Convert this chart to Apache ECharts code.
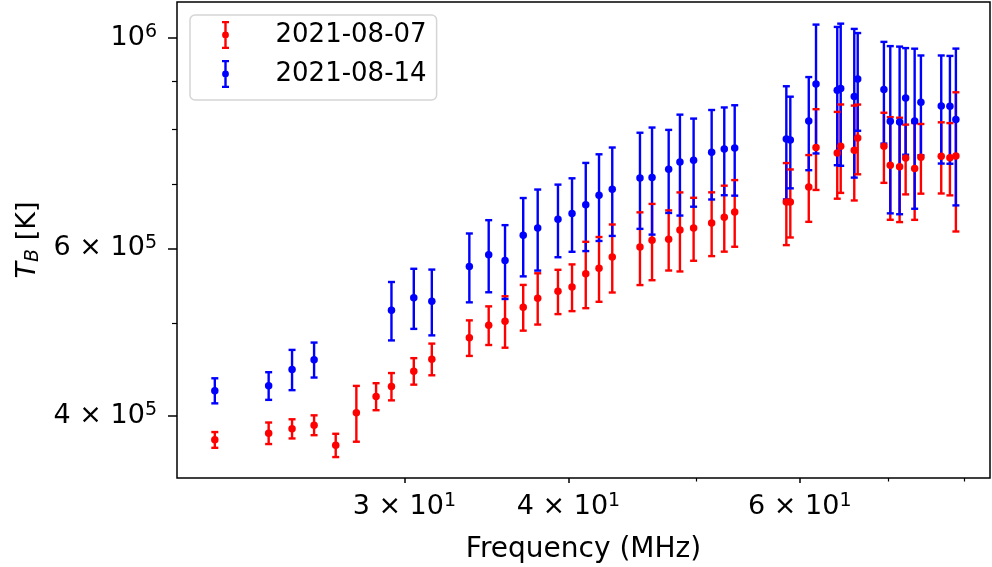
<!DOCTYPE html>
<html><head><meta charset="utf-8">
<script src="https://cdn.jsdelivr.net/npm/echarts@6/dist/echarts.min.js"></script>
<style>html,body{margin:0;padding:0;background:#fff}#chart{width:992px;height:567px}</style>
</head><body><div id="chart"></div>
<script>
// ---- data (frequency in MHz, brightness temperature in K, 1-sigma error in K) ----
const freq0807 = [21.52, 23.65, 24.64, 25.61, 26.60, 27.58, 28.55, 29.33, 30.50, 31.48,
  33.62, 34.78, 35.79, 36.95, 37.90, 39.27, 40.25, 41.23, 42.20, 43.19,
  45.34, 46.31, 47.68, 48.63, 49.81, 51.41, 52.56, 53.53,
  58.60, 59.01, 60.95, 61.73, 64.07, 64.46, 66.01, 66.41,
  69.53, 70.31, 71.47, 72.23, 73.38, 74.19, 76.88, 78.06, 78.88];
const tb0807 = [377.2e3, 383.4e3, 387.5e3, 390.9e3, 372.3e3, 402.7e3, 419.0e3, 429.3e3, 445.5e3, 458.7e3,
  483.1e3, 498.0e3, 502.9e3, 520.3e3, 531.8e3, 540.6e3, 546.2e3, 564.3e3, 571.9e3, 587.4e3,
  601.8e3, 611.8e3, 613.2e3, 627.2e3, 630.2e3, 638.0e3, 646.8e3, 655.1e3,
  671.2e3, 671.2e3, 696.0e3, 765.9e3, 755.9e3, 768.3e3, 760.9e3, 784.0e3,
  768.3e3, 733.8e3, 731.4e3, 746.8e3, 727.9e3, 748.0e3, 749.8e3, 747.5e3, 750.4e3];
const err0807 = [7.2e3, 10.0e3, 9.0e3, 9.4e3, 10.5e3, 27.2e3, 13.7e3, 14.2e3, 14.3e3, 17.6e3,
  20.8e3, 23.3e3, 31.3e3, 28.8e3, 33.0e3, 29.0e3, 30.9e3, 45.3e3, 44.8e3, 48.3e3,
  52.9e3, 56.4e3, 44.6e3, 59.9e3, 48.0e3, 49.2e3, 51.6e3, 52.8e3,
  66.5e3, 55.2e3, 56.2e3, 74.7e3, 79.2e3, 82.0e3, 87.1e3, 66.1e3,
  65.1e3, 90.8e3, 92.0e3, 63.0e3, 85.0e3, 63.0e3, 64.5e3, 65.3e3, 125.4e3];

const freq0814 = [21.52, 23.65, 24.64, 25.61, 29.33, 30.50, 31.48,
  33.62, 34.78, 35.79, 36.95, 37.90, 39.27, 40.25, 41.23, 42.20, 43.19,
  45.34, 46.31, 47.68, 48.63, 49.81, 51.41, 52.56, 53.53,
  58.60, 59.01, 60.95, 61.73, 64.07, 64.46, 66.01, 66.41,
  69.53, 70.31, 71.47, 72.23, 73.38, 74.19, 76.88, 78.06, 78.88];
const tb0814 = [425.0e3, 430.0e3, 447.3e3, 458.1e3, 516.5e3, 532.3e3, 527.9e3,
  574.2e3, 590.9e3, 582.7e3, 619.2e3, 630.2e3, 643.7e3, 653.0e3, 667.0e3, 682.2e3, 692.2e3,
  711.5e3, 712.2e3, 726.6e3, 739.6e3, 742.7e3, 757.2e3, 763.3e3, 765.2e3,
  782.1e3, 780.2e3, 816.9e3, 893.5e3, 880.0e3, 883.6e3, 866.7e3, 904.4e3,
  881.5e3, 816.3e3, 815.0e3, 863.8e3, 816.9e3, 854.7e3, 847.2e3, 846.5e3, 819.7e3];
const err0814 = [12.9e3, 14.4e3, 21.8e3, 19.4e3, 36.5e3, 38.7e3, 42.0e3,
  47.8e3, 51.5e3, 52.0e3, 58.6e3, 61.7e3, 56.5e3, 58.0e3, 71.0e3, 71.4e3, 73.9e3,
  82.5e3, 91.9e3, 72.9e3, 90.0e3, 79.0e3, 81.8e3, 80.9e3, 83.5e3,
  106.6e3, 86.3e3, 91.8e3, 138.4e3, 146.1e3, 150.7e3, 154.5e3, 106.6e3,
  108.1e3, 163.2e3, 163.3e3, 111.0e3, 156.5e3, 102.8e3, 110.3e3, 110.0e3, 153.9e3];

const seriesNames = ['2021-08-07', '2021-08-14'];
const seriesColors = ['#ff0000', '#0000ff'];

const xRange = [20.14, 83.74];
const yRange = [3.439e5, 1.090e6];
const xMajorTicks = [30, 40, 60];
const xMajorLabels = ['3×10^1', '4×10^1', '6×10^1'];
const xMinorTicks = [50, 70, 80];
const yMajorTicks = [4e5, 6e5, 1e6];
const yMajorLabels = ['4×10^5', '6×10^5', '10^6'];
const yMinorTicks = [5e5, 7e5, 8e5, 9e5];
const xAxisTitle = 'Frequency (MHz)';
const yAxisTitle = '{i|T}{sub|B}{m| [K]}';

// ---- helpers ----
const L = Math.log10;
const FONT = 'DejaVu Sans';

function toRich(label) {
  const parts = label.split('^');
  const base = parts[0].replace('×', ' × ');
  return '{m|' + base + '}{s|' + parts[1] + '}';
}
function labelFormatter(ticks, labels) {
  return function (v) {
    let best = 0, bd = Infinity;
    ticks.forEach((t, i) => { const d = Math.abs(L(t) - v); if (d < bd) { bd = d; best = i; } });
    return toRich(labels[best]);
  };
}
const tickRich = {
  m: { fontSize: 27, fontFamily: FONT, color: '#000', lineHeight: 30, verticalAlign: 'middle' },
  s: { fontSize: 19, fontFamily: FONT, color: '#000', lineHeight: 16, verticalAlign: 'top' }
};

const BAR_W = 2.4;
function stemRenderer(color) {
  return function (params, api) {
    const x = api.value(0);
    const a = api.coord([x, api.value(1)]);
    const b = api.coord([x, api.value(2)]);
    return { type: 'line', shape: { x1: a[0], y1: a[1], x2: b[0], y2: b[1] },
      style: { stroke: color, lineWidth: BAR_W } };
  };
}
function capRenderer(color) {
  return function (params, api) {
    const x = api.value(0);
    const a = api.coord([x, api.value(1)]);
    const b = api.coord([x, api.value(2)]);
    const w = 3.5;
    return { type: 'group', children: [
      { type: 'line', shape: { x1: a[0] - w, y1: a[1], x2: a[0] + w, y2: a[1] }, style: { stroke: color, lineWidth: BAR_W } },
      { type: 'line', shape: { x1: b[0] - w, y1: b[1], x2: b[0] + w, y2: b[1] }, style: { stroke: color, lineWidth: BAR_W } }
    ] };
  };
}

const groups = [
  { freq: freq0807, tb: tb0807, err: err0807 },
  { freq: freq0814, tb: tb0814, err: err0814 }
];

const series = [];
groups.forEach((g, k) => {
  const name = seriesNames[k], color = seriesColors[k];
  series.push({
    name, type: 'scatter', z: 4, symbol: 'circle', symbolSize: 7.5,
    itemStyle: { color: color, opacity: 1 },
    data: g.freq.map((f, i) => [L(f), L(g.tb[i])]),
    emphasis: { disabled: true }, silent: true
  });
});
groups.forEach((g, k) => {
  const name = seriesNames[k], color = seriesColors[k];
  series.push({
    name, type: 'custom', z: 2, itemStyle: { color: color },
    renderItem: stemRenderer(color), clip: false, silent: true,
    data: g.freq.map((f, i) => [L(f), L(g.tb[i] - g.err[i]), L(g.tb[i] + g.err[i])])
  });
});
groups.forEach((g, k) => {
  const name = seriesNames[k], color = seriesColors[k];
  series.push({
    name, type: 'custom', z: 3, itemStyle: { color: color },
    renderItem: capRenderer(color), clip: false, silent: true,
    data: g.freq.map((f, i) => [L(f), L(g.tb[i] - g.err[i]), L(g.tb[i] + g.err[i])])
  });
});

const legendIcon = 'path://M0,0H7V2.2H0Z M2.3,2H4.7V26H2.3Z M0,25.8H7V28H0Z M3.5,10.6A3.4,3.4 0 1 1 3.49,10.6Z';

const baseAxis = {
  type: 'value', splitLine: { show: false }, axisLine: { show: false }
};

const option = {
  animation: false,
  backgroundColor: '#ffffff',
  grid: { left: 177, right: 2, top: 2, bottom: 89, containLabel: false, outerBoundsMode: 'none',
    show: true, borderColor: '#000', borderWidth: 1.5, backgroundColor: 'transparent' },
  legend: {
    orient: 'vertical', left: 190, top: 15,
    padding: [6, 10, 12, 32], itemGap: 11, itemWidth: 10, itemHeight: 28,
    backgroundColor: '#ffffff', borderColor: '#d5d5d5', borderWidth: 1.5, borderRadius: 5,
    selectedMode: false,
    textStyle: { fontSize: 26, fontFamily: FONT, color: '#000', lineHeight: 28, padding: [0, 0, 0, 40] },
    data: seriesNames.map(n => ({ name: n, icon: legendIcon }))
  },
  xAxis: [
    Object.assign({}, baseAxis, {
      position: 'bottom', min: L(xRange[0]), max: L(xRange[1]),
      name: xAxisTitle, nameLocation: 'middle', nameGap: 58,
      nameTextStyle: { fontSize: 28, fontFamily: FONT, color: '#000' },
      axisTick: { show: true, inside: false, length: 5, lineStyle: { color: '#000', width: 1.5 },
        customValues: xMajorTicks.map(L) },
      axisLabel: { show: true, margin: 14, customValues: xMajorTicks.map(L),
        formatter: labelFormatter(xMajorTicks, xMajorLabels), rich: tickRich }
    }),
    Object.assign({}, baseAxis, {
      position: 'bottom', min: L(xRange[0]), max: L(xRange[1]),
      axisTick: { show: true, inside: false, length: 3.5, lineStyle: { color: '#000', width: 1.2 },
        customValues: xMinorTicks.map(L) },
      axisLabel: { show: false }
    })
  ],
  yAxis: [
    Object.assign({}, baseAxis, {
      position: 'left', min: L(yRange[0]), max: L(yRange[1]),
      name: yAxisTitle, nameLocation: 'middle', nameGap: 133,
      nameTextStyle: { fontSize: 27, fontFamily: FONT, color: '#000',
        rich: {
          i: { fontSize: 27, fontFamily: FONT, fontStyle: 'italic', color: '#000', lineHeight: 30 },
          sub: { fontSize: 19, fontFamily: FONT, fontStyle: 'italic', color: '#000', lineHeight: 18, verticalAlign: 'bottom' },
          m: { fontSize: 27, fontFamily: FONT, color: '#000', lineHeight: 30 }
        } },
      axisTick: { show: true, inside: false, length: 9, lineStyle: { color: '#000', width: 1.5 },
        customValues: yMajorTicks.map(L) },
      axisLabel: { show: true, margin: 20, customValues: yMajorTicks.map(L),
        formatter: labelFormatter(yMajorTicks, yMajorLabels), rich: tickRich }
    }),
    Object.assign({}, baseAxis, {
      position: 'left', min: L(yRange[0]), max: L(yRange[1]),
      axisTick: { show: true, inside: false, length: 5, lineStyle: { color: '#000', width: 1.2 },
        customValues: yMinorTicks.map(L) },
      axisLabel: { show: false }
    })
  ],
  series: series
};

const chart = echarts.init(document.getElementById('chart'), null, { renderer: 'canvas' });
chart.setOption(option);
</script>
</body></html>
